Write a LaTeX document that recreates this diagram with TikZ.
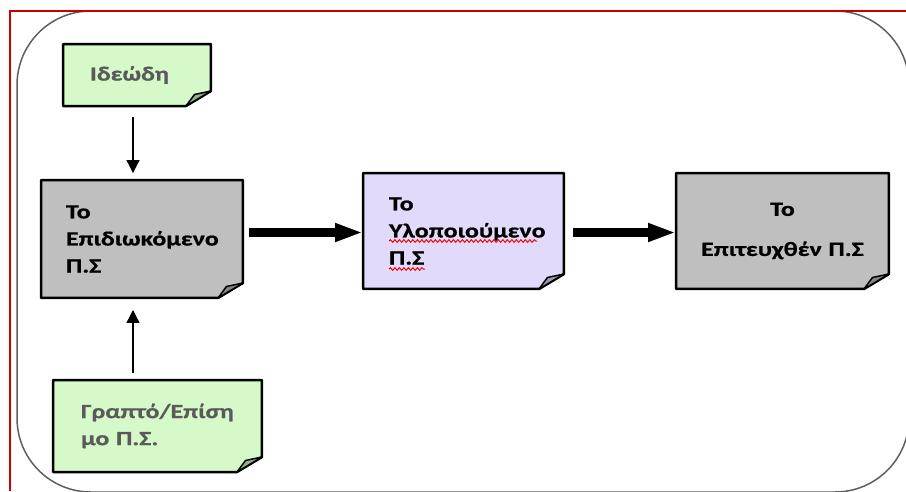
\documentclass[tikz,border=0pt]{standalone}
\usepackage{fontspec}
\newfontfamily\notefont{Carlito}[FakeStretch=1.28, BoldFeatures={FakeBold=0.8}]
\usepackage{tikz}
\usetikzlibrary{arrows.meta,decorations.pathmorphing}
\definecolor{notegreen}{HTML}{D5F9C9}
\definecolor{notegray}{HTML}{BFBFBF}
\definecolor{notelilac}{HTML}{E1DAFA}
\definecolor{notetext}{HTML}{5A5A5A}
\definecolor{framered}{HTML}{C80000}
\definecolor{framegray}{HTML}{5F5F5F}
\tikzset{note/.style={rectangle, inner ysep=0pt, outer sep=0pt,
  font=\notefont\bfseries\fontsize{11.5}{15.4}\selectfont}}
\tikzset{feed/.style={line width=0.025cm, -{Triangle[length=0.26cm,width=0.26cm]}}}
\tikzset{flow/.style={line width=0.18cm, -{Triangle[length=0.56cm,width=0.34cm]}}}
\tikzset{typo/.style={red, line width=0.02cm, decorate,
  decoration={snake, amplitude=0.025cm, segment length=0.09cm}}}

% outline of a note with its bottom right corner turned up
\newcommand{\dogear}[2]{%
  \fill[white] ([yshift=0.3cm]#1.south east) -- (#1.south east) -- ([xshift=-0.5cm]#1.south east) -- cycle;
  \draw[line width=0.05cm, line join=round] (#1.north west) -- (#1.north east)
    -- ([yshift=0.3cm]#1.south east) -- ([xshift=-0.5cm]#1.south east) -- (#1.south west) -- cycle;
  \filldraw[fill=#2!70!black, line width=0.03cm, line join=round] ([yshift=0.3cm]#1.south east)
    -- ([xshift=-0.33cm,yshift=0.23cm]#1.south east) -- ([xshift=-0.5cm]#1.south east) -- cycle;}

\begin{document}
\begin{tikzpicture}[x=0.02cm, y=-0.02cm]
\useasboundingbox (0,0) rectangle (906,491);
\fill[white] (0,0) rectangle (906,491);

% frame
\draw[framegray, line width=0.03cm, rounded corners=1.48cm] (17,11) rectangle (909,492);
\draw[framered, line width=0.045cm] (10,491) -- (10,11) -- (906,11);

% notes
\node[note, fill=notegreen, text=notetext, minimum width=2.96cm, minimum height=1.24cm,
  text width=1.88cm, inner xsep=0.54cm, align=left] (ideal) at (137,75) {Ιδεώδη};
\node[note, fill=notegray, minimum width=4.04cm, minimum height=2.36cm,
  text width=3.04cm, inner xsep=0.5cm, align=left] (goal) at (142,239) {Το\\Επιδιωκόμενο\\Π.Σ};
\node[note, fill=notelilac, minimum width=4.02cm, minimum height=2.32cm,
  text width=2.98cm, inner xsep=0.52cm, align=left] (impl) at (463.5,231) {Το\\Υλοποιούμενο\\Π.Σ};
\node[note, fill=notegray, minimum width=4.26cm, minimum height=2.32cm,
  text width=3.6cm, inner xsep=0.33cm, align=center] (done) at (782.5,231) {Το\\[0.26cm]Επιτευχθέν Π.Σ};
\node[note, fill=notegreen, text=notetext, minimum width=4.18cm, minimum height=1.84cm,
  text width=3.06cm, inner xsep=0.56cm, align=left] (formal) at (157.5,426) {Γραπτό/Επίση\\μο Π.Σ.};

\dogear{ideal}{notegreen}
\dogear{goal}{notegray}
\dogear{impl}{notelilac}
\dogear{done}{notegray}
\dogear{formal}{notegreen}

% spelling marks
\draw[typo] (389,241) -- (537,241);
\draw[typo] (389,269) -- (425,269);

% arrows
\coordinate (axis) at (133,0);
\coordinate (row) at (0,232.5);
\draw[feed, shorten <=0.22cm, shorten >=0.14cm] (ideal.south -| axis) -- (goal.north -| axis);
\draw[feed, shorten <=0.14cm, shorten >=0.24cm] (formal.north -| axis) -- (goal.south -| axis);
\draw[flow, shorten <=0.12cm] (goal.east |- row) -- (impl.west |- row);
\draw[flow, shorten <=0.18cm] (impl.east |- row) -- (done.west |- row);
\end{tikzpicture}
\end{document}
